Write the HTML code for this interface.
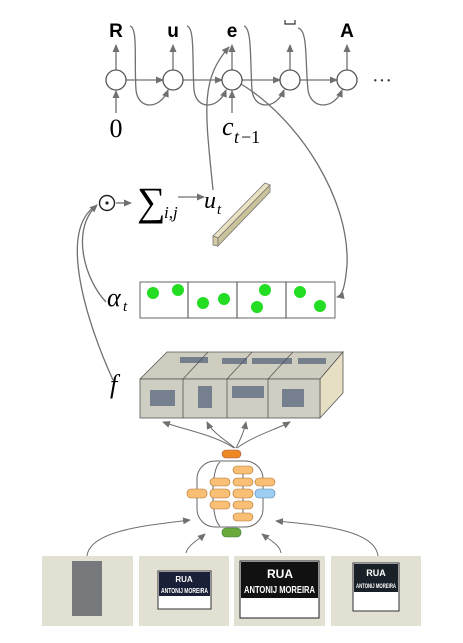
<!DOCTYPE html>
<html><head><meta charset="utf-8"><style>
html,body{margin:0;padding:0;background:#fff;}
svg{display:block;}
text{font-family:"Liberation Serif",serif;}
.b{font-family:"Liberation Sans",sans-serif;font-weight:bold;font-size:19px;}
.s{font-family:"Liberation Sans",sans-serif;font-weight:bold;}
</style></head><body>
<svg width="463" height="643" viewBox="0 0 463 643" xmlns="http://www.w3.org/2000/svg">
<defs>
<marker id="a" markerWidth="8" markerHeight="8" refX="7" refY="4" orient="auto" markerUnits="userSpaceOnUse"><path d="M0,0.5 L8,4 L0,7.5 Z" fill="#707070"/></marker>
</defs>
<g stroke="#707070" stroke-width="1.3" fill="none">
<line x1="126" y1="80" x2="163" y2="80" marker-end="url(#a)"/>
<line x1="183" y1="80" x2="222" y2="80" marker-end="url(#a)"/>
<line x1="242" y1="80" x2="280" y2="80" marker-end="url(#a)"/>
<line x1="300" y1="80" x2="337" y2="80" marker-end="url(#a)"/>
<line x1="116" y1="70" x2="116" y2="45" marker-end="url(#a)"/>
<line x1="173" y1="70" x2="173" y2="45" marker-end="url(#a)"/>
<line x1="232" y1="70" x2="232" y2="45" marker-end="url(#a)"/>
<line x1="290" y1="70" x2="290" y2="45" marker-end="url(#a)"/>
<line x1="347" y1="70" x2="347" y2="45" marker-end="url(#a)"/>
<line x1="116" y1="113" x2="116" y2="91" marker-end="url(#a)"/>
<line x1="232" y1="113" x2="232" y2="91" marker-end="url(#a)"/>
<path d="M130 26 C138 28,134 60,136 90 C138 110,160 110,168 90" marker-end="url(#a)"/>
<path d="M187 26 C195 28,192 60,194 90 C196 110,218 110,226 90" marker-end="url(#a)"/>
<path d="M244 26 C252 28,250 60,252 90 C254 110,276 110,284 90" marker-end="url(#a)"/>
<path d="M298 28 C308 30,305 60,308 90 C311 110,334 110,342 90" marker-end="url(#a)"/>
<path d="M213 190 C205 110,200 80,229 47" marker-end="url(#a)"/>
<path d="M241 84 C300 120,350 200,347 265 C345 288,342 296,337 297" marker-end="url(#a)"/>
<line x1="116" y1="203" x2="131" y2="203" marker-end="url(#a)"/>
<line x1="178" y1="197" x2="204" y2="197" marker-end="url(#a)"/>
<path d="M106 302 C85 280,70 230,97 205" marker-end="url(#a)"/>
<path d="M113 380 C90 330,55 230,97 205"/>
<circle cx="116" cy="80" r="10" fill="#fff" stroke="#555"/>
<circle cx="173" cy="80" r="10" fill="#fff" stroke="#555"/>
<circle cx="232" cy="80" r="10" fill="#fff" stroke="#555"/>
<circle cx="290" cy="80" r="10" fill="#fff" stroke="#555"/>
<circle cx="347" cy="80" r="10" fill="#fff" stroke="#555"/>
</g>
<circle cx="107" cy="203" r="7.5" fill="#fff" stroke="#222" stroke-width="1.4"/>
<circle cx="107" cy="203" r="1.6" fill="#222"/>
<text x="116" y="37" class="b" text-anchor="middle">R</text>
<text x="173" y="37" class="b" text-anchor="middle">u</text>
<text x="232" y="37" class="b" text-anchor="middle">e</text>
<path d="M285 20 v4 h10 v-4" stroke="#333" fill="none" stroke-width="1.2"/>
<text x="347" y="37" class="b" text-anchor="middle">A</text>
<text x="372" y="87" font-family="Liberation Sans" font-size="20" fill="#333">···</text>
<text x="116" y="137" font-size="26" text-anchor="middle">0</text>
<text x="222" y="135" font-size="26" font-style="italic">c</text>
<text x="234" y="143" font-size="18" font-style="italic">t</text>
<text x="241" y="143" font-size="18">−1</text>
<text x="137" y="215" font-size="40">∑</text>
<text x="164" y="218" font-size="17" font-style="italic">i,j</text>
<text x="204" y="208" font-size="24" font-style="italic">u</text>
<text x="217" y="214" font-size="15" font-style="italic">t</text>
<polygon points="213,236 265,183 270,185 218,238" fill="#e8e2c2" stroke="#777" stroke-width="0.8"/>
<polygon points="213,236 218,238 218,246 213,245" fill="#d2cba4" stroke="#777" stroke-width="0.8"/>
<polygon points="218,238 270,185 270,192 218,246" fill="#c9c29a" stroke="#777" stroke-width="0.8"/>
<text x="107" y="306" font-size="26" font-style="italic">α</text>
<text x="123" y="311" font-size="15" font-style="italic">t</text>
<rect x="140" y="282" width="195" height="36" fill="#fff" stroke="#666"/>
<line x1="188" y1="282" x2="188" y2="318" stroke="#444"/>
<line x1="237" y1="282" x2="237" y2="318" stroke="#444"/>
<line x1="286" y1="282" x2="286" y2="318" stroke="#444"/>
<g fill="#22dd22">
<circle cx="153" cy="293" r="6"/><circle cx="178" cy="290" r="6"/>
<circle cx="203" cy="303" r="6"/><circle cx="224" cy="299" r="6"/>
<circle cx="265" cy="290" r="6"/><circle cx="257" cy="307" r="6"/>
<circle cx="300" cy="292" r="6"/><circle cx="320" cy="306" r="6"/>
</g>
<text x="110" y="393" font-size="26" font-style="italic">f</text>
<polygon points="140,379 167,352 343,352 320,379" fill="#cfcdc0" stroke="#555" stroke-width="0.8"/>
<polygon points="320,379 343,352 343,393 320,418" fill="#e6dfc4" stroke="#555" stroke-width="0.8"/>
<rect x="140" y="379" width="180" height="39" fill="#cfcec2" stroke="#555" stroke-width="0.8"/>
<g stroke="#555" stroke-width="0.8"><line x1="183" y1="379" x2="183" y2="418"/><line x1="227" y1="379" x2="227" y2="418"/><line x1="268" y1="379" x2="268" y2="418"/>
<line x1="183" y1="379" x2="208" y2="352"/><line x1="227" y1="379" x2="252" y2="352"/><line x1="268" y1="379" x2="293" y2="352"/></g>
<g fill="#3b4c6a" opacity="0.6">
<rect x="150" y="390" width="25" height="16"/><rect x="198" y="386" width="14" height="22"/><rect x="232" y="386" width="32" height="12"/><rect x="282" y="389" width="22" height="18"/>
<rect x="180" y="357" width="28" height="6"/><rect x="222" y="358" width="25" height="6"/><rect x="252" y="358" width="40" height="6"/><rect x="298" y="358" width="28" height="6"/>
</g>
<g stroke="#707070" stroke-width="1" fill="none">
<path d="M234 448 C215 435,185 430,163 422" marker-end="url(#a)"/>
<path d="M235 448 C225 440,212 432,207 422" marker-end="url(#a)"/>
<path d="M236 448 C240 440,244 432,246 422" marker-end="url(#a)"/>
<path d="M237 448 C255 435,275 430,290 422" marker-end="url(#a)"/>
<rect x="197" y="461" width="66" height="66" rx="18" stroke="#666"/>
<path d="M220 462 C210 470,211 520,220 526" stroke="#666"/>
<line x1="243" y1="466" x2="243" y2="521" stroke="#666"/>
<path d="M87 556 C90 530,150 525,190 520" marker-end="url(#a)"/>
<path d="M186 553 C188 545,198 540,205 534" marker-end="url(#a)"/>
<path d="M281 553 C280 545,270 540,262 534" marker-end="url(#a)"/>
<path d="M378 556 C375 530,320 525,276 521" marker-end="url(#a)"/>
</g>
<g stroke="#b07030" stroke-width="0.6" fill="#f9bf75">
<rect x="233" y="466" width="20" height="8" rx="4"/>
<rect x="210" y="478" width="20" height="8" rx="4"/><rect x="233" y="478" width="20" height="8" rx="4"/><rect x="255" y="478" width="20" height="8" rx="4"/>
<rect x="187" y="489" width="20" height="9" rx="4"/><rect x="210" y="489" width="20" height="9" rx="4"/><rect x="233" y="489" width="20" height="9" rx="4"/>
<rect x="210" y="501" width="20" height="8" rx="4"/><rect x="233" y="501" width="20" height="8" rx="4"/>
<rect x="233" y="513" width="20" height="8" rx="4"/>
</g>
<rect x="255" y="489" width="20" height="9" rx="4" fill="#9dcdf0" stroke="#5588aa" stroke-width="0.6"/>
<rect x="222" y="450" width="19" height="8" rx="4" fill="#ee8822" stroke="#a55" stroke-width="0.6"/>
<rect x="222" y="528" width="19" height="9" rx="4" fill="#6aaa3a" stroke="#474" stroke-width="0.6"/>
<g>
<rect x="42" y="556" width="91" height="70" fill="#e2dfd3"/>
<rect x="72" y="561" width="30" height="55" fill="#4a4e58" opacity="0.7"/>
<rect x="139" y="556" width="90" height="70" fill="#e2dfd3"/>
<rect x="158" y="571" width="53" height="38" fill="#fff" stroke="#333"/>
<rect x="159" y="572" width="51" height="24" fill="#1a2038"/>
<text x="184" y="582" class="s" font-size="8" fill="#fff" text-anchor="middle">RUA</text>
<text x="161" y="593" class="s" font-size="7" fill="#fff" textLength="47" lengthAdjust="spacingAndGlyphs">ANTONIJ MOREIRA</text>
<rect x="234" y="556" width="91" height="70" fill="#e2dfd3"/>
<rect x="240" y="561" width="79" height="57" fill="#fff" stroke="#222"/>
<rect x="241" y="562" width="77" height="36" fill="#111"/>
<text x="280" y="578" class="s" font-size="12" fill="#fff" text-anchor="middle">RUA</text>
<text x="244" y="593" class="s" font-size="10" fill="#fff" textLength="71" lengthAdjust="spacingAndGlyphs">ANTONIJ MOREIRA</text>
<rect x="331" y="556" width="90" height="70" fill="#e2dfd3"/>
<rect x="353" y="563" width="46" height="48" fill="#fff" stroke="#333"/>
<rect x="354" y="564" width="44" height="28" fill="#1a2028"/>
<text x="376" y="576" class="s" font-size="9" fill="#fff" text-anchor="middle">RUA</text>
<text x="356" y="588" class="s" font-size="6" fill="#fff" textLength="40" lengthAdjust="spacingAndGlyphs">ANTONIJ MOREIRA</text>
</g>
</svg>
</body></html>
